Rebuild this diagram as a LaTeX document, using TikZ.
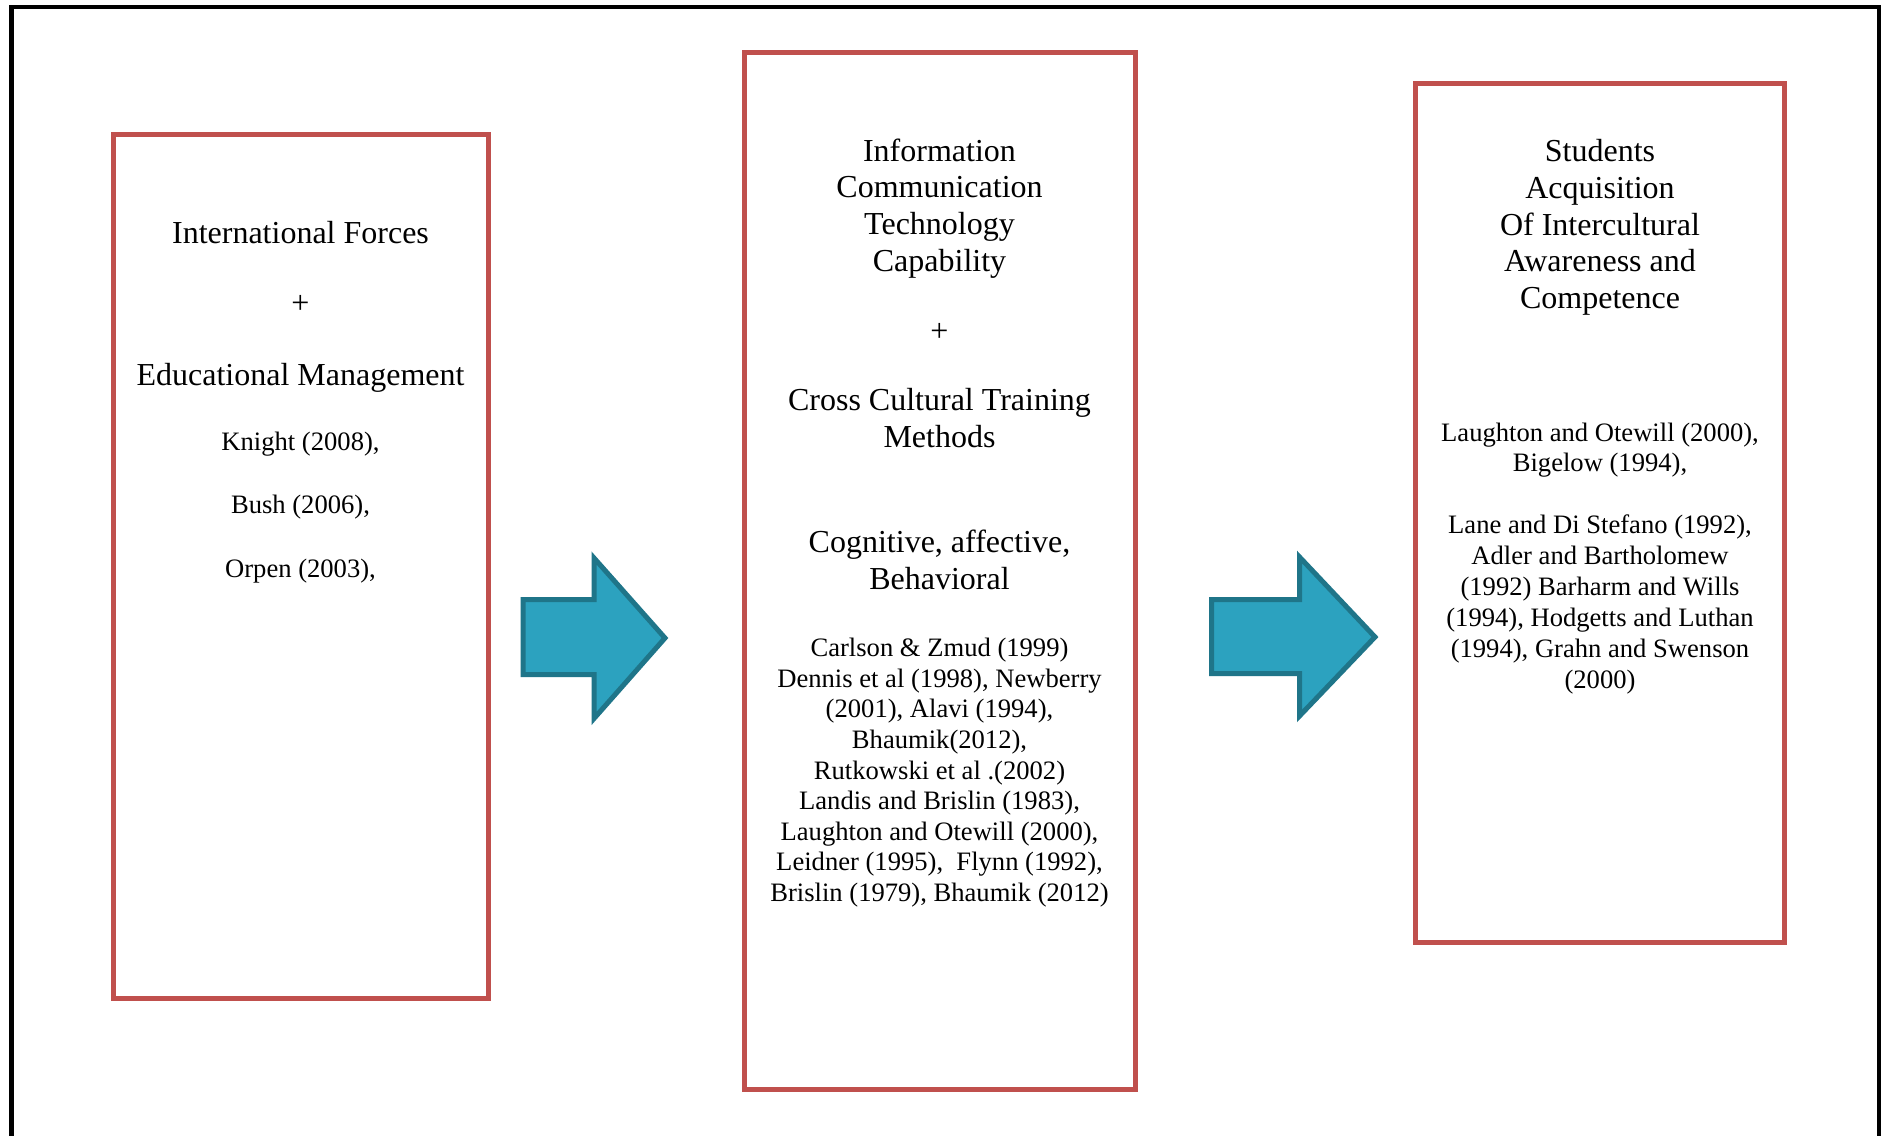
\documentclass[tikz,border=0pt]{standalone}
\usepackage{fontspec}
\setmainfont{Liberation Serif}
\definecolor{boxred}{HTML}{C0504D}
\definecolor{arrfill}{HTML}{2CA2BF}
\definecolor{arrdraw}{HTML}{1F7589}
\begin{document}
\begin{tikzpicture}[x=1pt,y=-1pt,
  frame/.style={line width=4.5pt,black},
  redbox/.style={draw=boxred,line width=5pt,rectangle,inner sep=0pt,outer sep=0pt},
  blockarrow/.style={fill=arrfill,draw=arrdraw,line width=5pt,line join=miter},
  tline/.style={font=\fontsize{32}{36.8}\selectfont,anchor=base,inner sep=0pt},
  cline/.style={font=\fontsize{26.6}{30.6}\selectfont,anchor=base,inner sep=0pt}]
\useasboundingbox (0,0) rectangle (1881,1135);
\fill[white] (0,0) rectangle (1881,1135);
% outer frame (open at the bottom)
\draw[frame] (11.5,1150) -- (11.5,7) -- (1879,7) -- (1879,1150);
% boxes
\node (b1) [redbox,minimum width=375pt,minimum height=864pt] at (300.5,566) {};
\node (b2) [redbox,minimum width=391pt,minimum height=1037pt] at (939.5,570.5) {};
\node (b3) [redbox,minimum width=369pt,minimum height=859pt] at (1600,512.5) {};
% block arrows
\draw[blockarrow] (523,599.5) -- (594,599.5) -- (594,558) -- (665,638) -- (594,718.5) -- (594,674.5) -- (523,674.5) -- cycle;
\draw[blockarrow] (1211.5,599.5) -- (1299.5,599.5) -- (1299.5,557) -- (1375,637) -- (1299.5,716) -- (1299.5,673.5) -- (1211.5,673.5) -- cycle;
% box 1 text
\node (l1a) [tline] at (300.5,243) {International Forces};
\node (l1b) [tline] at (300.5,313) {+};
\node (l1c) [tline] at (300.5,385) {Educational Management};
\node (l1d) [cline] at (300.5,450) {Knight (2008),};
\node (l1e) [cline] at (300.5,513.5) {Bush (2006),};
\node (l1f) [cline] at (300.5,577) {Orpen (2003),};
% box 2 text
\node (l2a) [tline] at (939.5,161) {Information};
\node (l2b) [tline] at (939.5,197.7) {Communication};
\node (l2c) [tline] at (939.5,234.4) {Technology};
\node (l2d) [tline] at (939.5,271) {Capability};
\node (l2e) [tline] at (939.5,341) {+};
\node (l2f) [tline] at (939.5,410.5) {Cross Cultural Training};
\node (l2g) [tline] at (939.5,447.3) {Methods};
\node (l2h) [tline] at (939.5,552.5) {Cognitive, affective,};
\node (l2i) [tline] at (939.5,589.3) {Behavioral};
\node (c2a) [cline] at (939.5,656.6) {Carlson \& Zmud (1999)};
\node (c2b) [cline] at (939.5,687.2) {Dennis et al (1998), Newberry};
\node (c2c) [cline] at (939.5,717.8) {(2001), Alavi (1994),};
\node (c2d) [cline] at (939.5,748.4) {Bhaumik(2012),};
\node (c2e) [cline] at (939.5,779.0) {Rutkowski et al .(2002)};
\node (c2f) [cline] at (939.5,809.6) {Landis and Brislin (1983),};
\node (c2g) [cline] at (939.5,840.2) {Laughton and Otewill (2000),};
\node (c2h) [cline] at (939.5,870.8) {Leidner (1995),\ \ Flynn (1992),};
\node (c2i) [cline] at (939.5,901.4) {Brislin (1979), Bhaumik (2012)};
% box 3 text
\node (l3a) [tline] at (1600,161.5) {Students};
\node (l3b) [tline] at (1600,198.3) {Acquisition};
\node (l3c) [tline] at (1600,235) {Of Intercultural};
\node (l3d) [tline] at (1600,271.8) {Awareness and};
\node (l3e) [tline] at (1600,308.6) {Competence};
\node (c3a) [cline] at (1600,441) {Laughton and Otewill (2000),};
\node (c3b) [cline] at (1600,471.9) {Bigelow (1994),};
\node (c3c) [cline] at (1600,533.7) {Lane and Di Stefano (1992),};
\node (c3d) [cline] at (1600,564.6) {Adler and Bartholomew};
\node (c3e) [cline] at (1600,595.5) {(1992) Barharm and Wills};
\node (c3f) [cline] at (1600,626.4) {(1994), Hodgetts and Luthan};
\node (c3g) [cline] at (1600,657.3) {(1994), Grahn and Swenson};
\node (c3h) [cline] at (1600,688.2) {(2000)};
\end{tikzpicture}
\end{document}
